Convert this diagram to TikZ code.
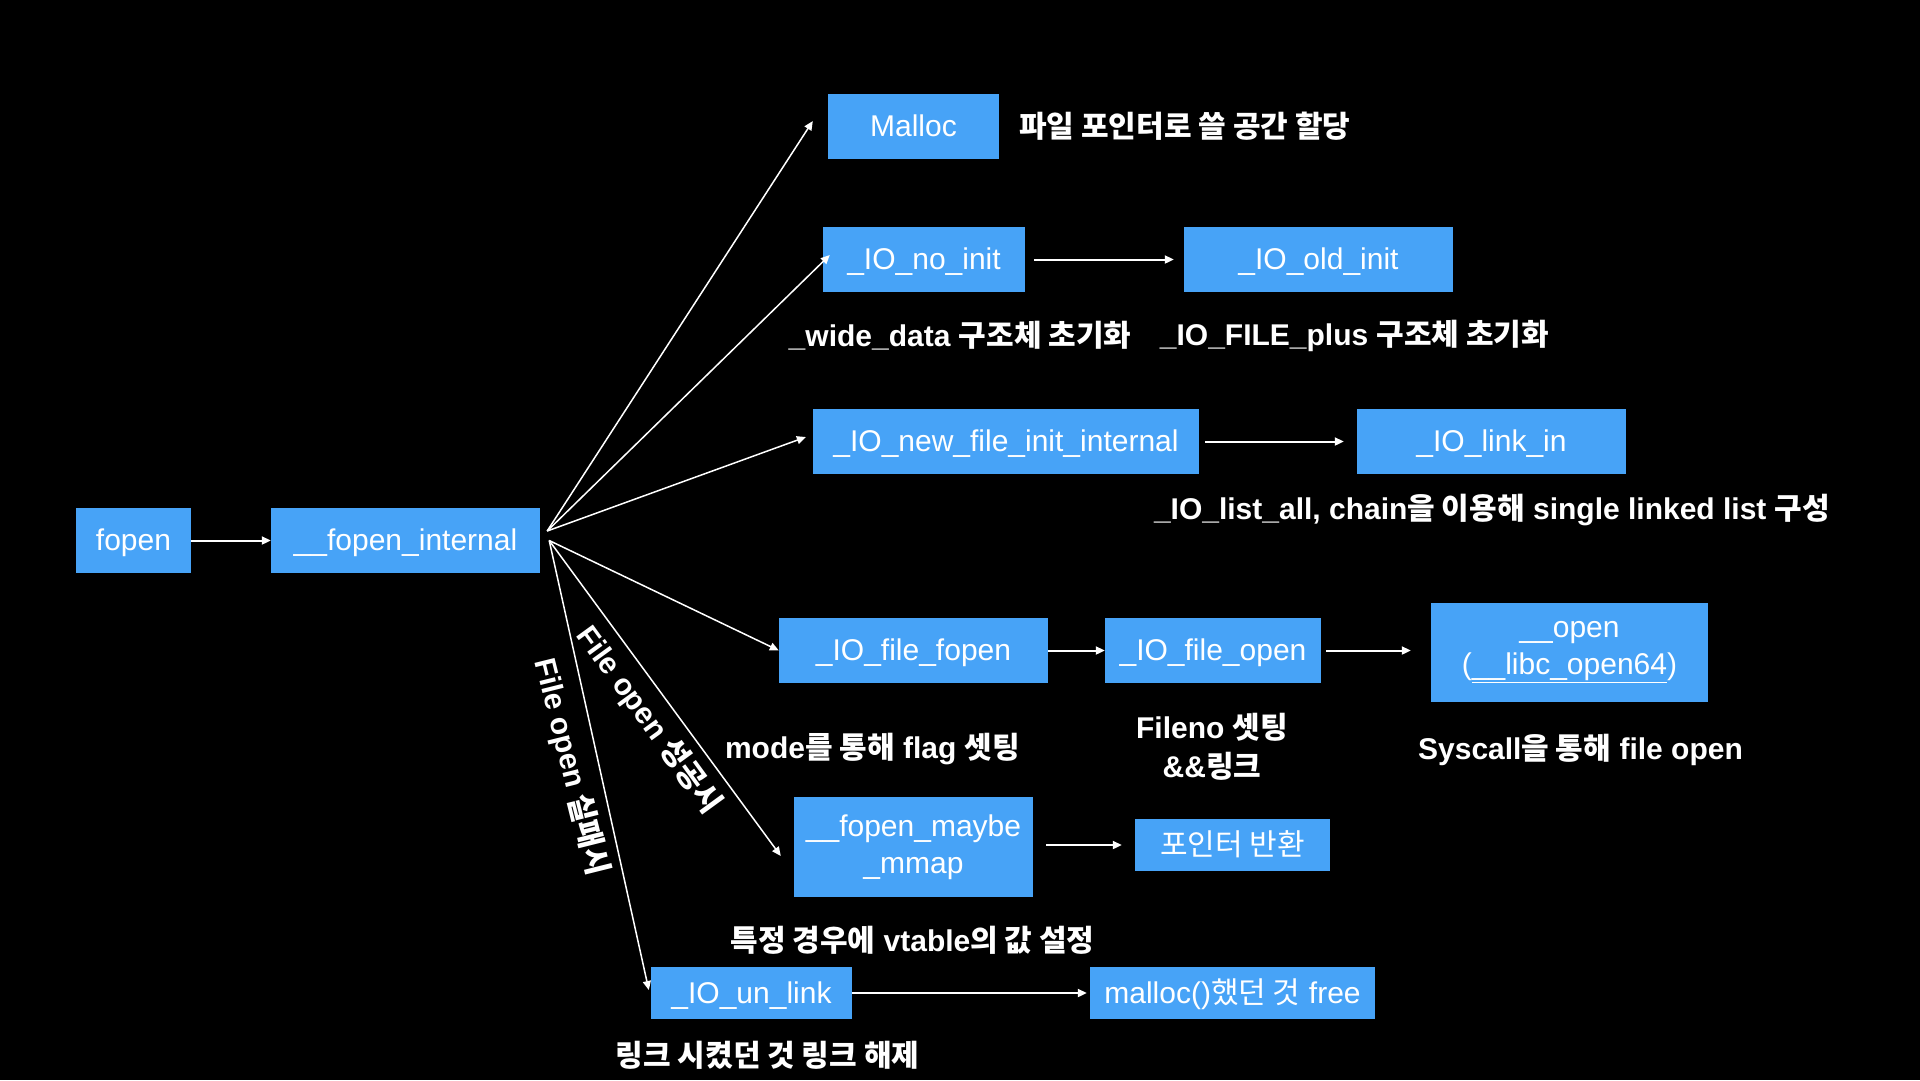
\documentclass[tikz,border=0pt]{standalone}
\usepackage{fontspec}
\setmainfont{Liberation Sans}
\newfontfamily\krfont{Noto Sans CJK KR}
\usepackage{tikz}
\usetikzlibrary{arrows.meta}
\usetikzlibrary{positioning}
\tikzset{>={Triangle[length=9pt,width=8pt]}}
\definecolor{boxblue}{RGB}{71,163,247}
\newcommand{\kor}[1]{{\krfont #1}}
\tikzset{
  fn/.style={fill=boxblue, text=white, inner sep=0pt, minimum height=65pt, align=center, font=\fontsize{30}{37}\selectfont},
  oneline/.style={text height=24pt, text depth=4pt},
  note/.style={text=white, inner sep=0pt, align=center, font=\bfseries\fontsize{30}{39}\selectfont},
  call/.style={->, white, line width=2pt},
  fan/.style={->, white, line width=1.5pt},
}

\begin{document}
\begin{tikzpicture}[x=1pt,y=-1pt]
        \fill[black] (0,0) rectangle (1920,1080);
        \node[fn, oneline, minimum width=115pt] (fopen) at (133.5,540.5) {fopen};
        \node[fn, oneline, minimum width=269pt] (fint) at (405.5,540.5) {\_\_fopen\_internal};
        \node[fn, oneline, minimum width=171pt] (malloc) at (913.5,126.5) {Malloc};
        \node[fn, oneline, minimum width=202pt] (noinit) at (924,259.5) {\_IO\_no\_init};
        \node[fn, oneline, minimum width=269pt] (oldinit) at (1318.5,259.5) {\_IO\_old\_init};
        \node[fn, oneline, minimum width=386pt] (newfile) at (1006,441.5) {\_IO\_new\_file\_init\_internal};
        \node[fn, oneline, minimum width=269pt] (linkin) at (1491.5,441.5) {\_IO\_link\_in};
        \node[fn, oneline, minimum width=269pt] (filefopen) at (913.5,650.5) {\_IO\_file\_fopen};
        \node[fn, oneline, minimum width=216pt] (fileopen) at (1213,650.5) {\_IO\_file\_open};
        \node[fn, minimum width=277pt, minimum height=99pt] (sysopen) at (1569.5,652) {\_\_open\\(\underline{\_\_libc\_open64})};
        \node[fn, minimum width=239pt, minimum height=100pt] (mmap) at (913.5,847) {\_\_fopen\_maybe\\\_mmap};
        \node[fn, oneline, minimum width=195pt, minimum height=52pt] (ptrret) at (1232.5,845) {\kor{포인터 반환}};
        \node[fn, oneline, minimum width=201pt, minimum height=52pt] (unlink) at (751.5,993) {\_IO\_un\_link};
        \node[fn, oneline, minimum width=285pt, minimum height=52pt] (freebox) at (1232.5,993) {malloc()\kor{했던 것} free};

        \node[note, anchor=west] (mallocnote) at (1019,126) {\kor{파일 포인터로 쓸 공간 할당}};
        \node[note] (widenote) at (960,336) {\_wide\_data \kor{구조체 초기화}};
        \node[note] (plusnote) at (1354.5,336) {\_IO\_FILE\_plus \kor{구조체 초기화}};
        \node[note] (listnote) at (1492,510) {\_IO\_list\_all, chain\kor{을 이용해} single linked list \kor{구성}};
        \node[note] (modenote) at (872.5,749) {mode\kor{를 통해} flag \kor{셋팅}};
        \node[note] (filenonote) at (1212,747) {Fileno \kor{셋팅}\\\&\&\kor{링크}};
        \node[note] (sysnote) at (1580.5,750) {Syscall\kor{을 통해} file open};
        \node[note] (vtnote) at (912.5,940) {\kor{특정 경우에} vtable\kor{의 값 설정}};
        \node[note] (unlinknote) at (767.5,1055) {\kor{링크 시켰던 것 링크 해제}};
        \node[note, rotate=-54] (oknote) at (649,720) {File open \kor{성공시}};
        \node[note, rotate=-76] (failnote) at (571,767) {File open \kor{실패시}};

        \coordinate (fanup) at ([xshift=7pt,yshift=9.5pt]fint.east);
        \coordinate (fandn) at ([xshift=9pt]fint.east);
        \draw[fan, shorten >=27.6pt] (fanup) -- ([yshift=28.6pt]malloc.west);
        \draw[fan] (fanup) -- ([xshift=7pt,yshift=4.5pt]noinit.west);
        \draw[fan, shorten >=7.4pt] (fanup) -- ([yshift=7pt]newfile.west);
        \draw[fan] (fandn) -- (filefopen.west);
        \draw[fan, shorten >=22pt] (fandn) -- ([yshift=-26.7pt]mmap.west);
        \draw[fan, shorten >=9.2pt] (fandn) -- ([yshift=-6pt]unlink.west);

        \draw[call] (fopen) -- (fint);
        \draw[call, shorten <=9pt, shorten >=10pt] (noinit) -- (oldinit);
        \draw[call, shorten <=6pt, shorten >=13pt] (newfile) -- (linkin);
        \draw[call] (filefopen) -- (fileopen);
        \draw[call, shorten <=5pt, shorten >=20pt] (fileopen) -- ([yshift=1.5pt]sysopen.west);
        \draw[call, shorten <=13pt, shorten >=13pt] ([yshift=2pt]mmap.east) -- (ptrret);
        \draw[call, shorten >=3pt] (unlink) -- (freebox);
\end{tikzpicture}
\end{document}
